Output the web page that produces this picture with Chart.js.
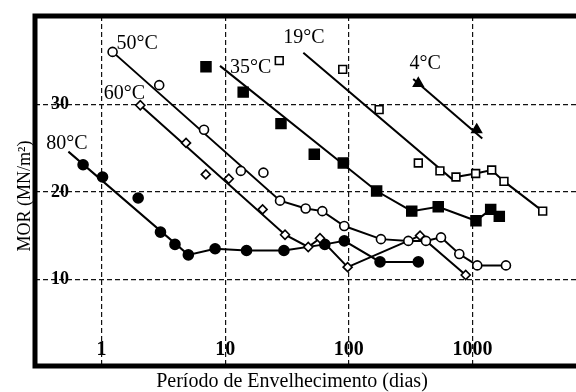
<!doctype html>
<html>

<head>
    <title>MOR x Período de Envelhecimento</title>
    <script src="https://cdn.jsdelivr.net/npm/chart.js"></script>
    <style>
        html, body { margin: 0; padding: 0; background: #fff; }
    </style>
</head>

<body>
    <canvas id="grafico" width="576" height="392"></canvas>

    <script>
        var dias50 = [1.23, 2.93, 6.75, 13.4, 20.4, 27.8, 44.8, 61.1, 91.9, 182, 303, 421, 557, 783, 1094, 1867];
        var mor50 = [36.0, 32.2, 27.1, 22.4, 22.2, 19.0, 18.1, 17.8, 16.1, 14.6, 14.4, 14.4, 14.8, 12.9, 11.6, 11.6];
        var linhaDias50 = [1.23, 27.8, 44.8, 61.1, 91.9, 182, 303, 421, 557, 783, 1094, 1867];
        var linhaMor50 = [36.0, 19.0, 18.1, 17.8, 16.1, 14.6, 14.4, 14.4, 14.8, 12.9, 11.6, 11.6];

        var dias60 = [2.06, 4.83, 6.98, 10.7, 20.1, 30.5, 47.0, 58.5, 97.9, 377, 882];
        var mor60 = [29.9, 25.6, 22.0, 21.5, 18.0, 15.1, 13.7, 14.7, 11.4, 15.0, 10.5];
        var linhaDias60 = [2.06, 30.5, 47.0, 58.5, 97.9, 377, 882];
        var linhaMor60 = [29.9, 15.1, 13.7, 14.7, 11.4, 15.0, 10.5];

        var dias80 = [0.71, 1.02, 1.98, 3.0, 3.93, 5.04, 8.3, 14.9, 29.9, 64, 92, 179, 365];
        var mor80 = [23.1, 21.7, 19.3, 15.4, 14.0, 12.8, 13.5, 13.3, 13.3, 14.0, 14.4, 12.0, 12.0];
        var linhaDias80 = [0.54, 5.04, 8.3, 14.9, 29.9, 64, 92, 179, 365];
        var linhaMor80 = [24.6, 12.8, 13.5, 13.3, 13.3, 14.0, 14.4, 12.0, 12.0];

        var dias35 = [7.0, 14.0, 28.3, 52.6, 90.3, 168, 323, 529, 1068, 1405, 1649];
        var mor35 = [34.3, 31.4, 27.8, 24.3, 23.3, 20.1, 17.8, 18.3, 16.7, 18.0, 17.2];
        var linhaDias35 = [9.09, 168, 323, 529, 1068, 1405, 1649];
        var linhaMor35 = [34.4, 20.1, 17.8, 18.3, 16.7, 18.0, 17.2];

        var dias19 = [27.4, 89.3, 176, 365, 546, 736, 1062, 1431, 1799, 3700];
        var mor19 = [35.0, 34.0, 29.4, 23.3, 22.4, 21.7, 22.1, 22.5, 21.2, 17.8];
        var linhaDias19 = [42.9, 680, 736, 1062, 1431, 1799, 3700];
        var linhaMor19 = [35.9, 21.5, 21.7, 22.1, 22.5, 21.2, 17.8];

        var dias4 = [365, 1082];
        var mor4 = [32.4, 27.1];
        var linhaDias4 = [332, 1201];
        var linhaMor4 = [32.9, 26.1];

        // rótulos das temperaturas, posicionados em coordenadas do gráfico
        var temperaturas = ['50°C', '60°C', '80°C', '35°C', '19°C', '4°C'];
        var rotuloDias = [1.94, 1.53, 0.526, 16.1, 43.4, 415];
        var rotuloMor = [36.9, 31.2, 25.5, 34.2, 37.6, 34.6];

        var ticksX = [1, 10, 100, 1000];
        var ticksY = [10, 20, 30];

        var fonte = "'Liberation Serif', 'Times New Roman', serif";

        function pontos(xs, ys) {
            return xs.map(function (x, i) { return { x: x, y: ys[i] }; });
        }

        function marcadores(xs, ys, estilo, cheio, raio) {
            return {
                data: pontos(xs, ys),
                showLine: false,
                order: 0,
                pointStyle: estilo,
                pointRadius: raio,
                pointHoverRadius: raio,
                pointBackgroundColor: cheio ? '#000' : '#fff',
                pointBorderColor: '#000',
                pointBorderWidth: 1.6
            };
        }

        function linha(xs, ys) {
            return {
                data: pontos(xs, ys),
                showLine: true,
                order: 1,
                borderColor: '#000',
                borderWidth: 2,
                pointRadius: 0,
                pointHoverRadius: 0,
                tension: 0
            };
        }

        // moldura grossa: esquerda, topo e base
        var moldura = {
            id: 'moldura',
            afterDraw: function (chart) {
                var a = chart.chartArea, c = chart.ctx;
                c.save();
                c.strokeStyle = '#000';
                c.lineWidth = 5;
                c.beginPath();
                c.moveTo(chart.width, a.top);
                c.lineTo(a.left, a.top);
                c.lineTo(a.left, a.bottom);
                c.lineTo(chart.width, a.bottom);
                c.stroke();
                c.restore();
            }
        };

        var rotulos = {
            id: 'rotulos',
            afterDatasetsDraw: function (chart) {
                var c = chart.ctx, sx = chart.scales.x, sy = chart.scales.y;
                c.save();
                c.fillStyle = '#000';
                c.font = '20px ' + fonte;
                c.textAlign = 'center';
                c.textBaseline = 'middle';
                temperaturas.forEach(function (t, i) {
                    c.fillText(t, sx.getPixelForValue(rotuloDias[i]), sy.getPixelForValue(rotuloMor[i]));
                });

                // títulos dos eixos
                c.fillText('Período de Envelhecimento (dias)', 292, 382);
                c.font = '18px ' + fonte;
                c.translate(25, 196);
                c.rotate(-Math.PI / 2);
                c.fillText('MOR (MN/m²)', 0, 0);
                c.restore();
            }
        };

        var grafico = new Chart(document.getElementById('grafico').getContext('2d'), {
            type: 'scatter',
            data: {
                datasets: [
                    marcadores(dias50, mor50, 'circle', false, 4.5),
                    marcadores(dias60, mor60, 'rectRot', false, 4.5),
                    marcadores(dias80, mor80, 'circle', true, 5),
                    marcadores(dias35, mor35, 'rect', true, 7),
                    marcadores(dias19, mor19, 'rect', false, 5.5),
                    marcadores(dias4, mor4, 'triangle', true, 5.5),
                    linha(linhaDias50, linhaMor50),
                    linha(linhaDias60, linhaMor60),
                    linha(linhaDias80, linhaMor80),
                    linha(linhaDias35, linhaMor35),
                    linha(linhaDias19, linhaMor19),
                    linha(linhaDias4, linhaMor4)
                ]
            },
            options: {
                responsive: false,
                animation: false,
                layout: { autoPadding: false, padding: { top: 16, left: 0, right: 0, bottom: 0 } },
                plugins: {
                    legend: { display: false },
                    tooltip: { enabled: false }
                },
                scales: {
                    x: {
                        type: 'logarithmic',
                        position: 'bottom',
                        min: 0.29,
                        max: 6880,
                        afterBuildTicks: function (s) {
                            s.ticks = ticksX.map(function (v) { return { value: v }; });
                        },
                        afterFit: function (s) {
                            s.height = 26;
                            s.paddingLeft = 0;
                            s.paddingRight = 0;
                        },
                        grid: { color: '#111', lineWidth: 1.2, drawTicks: false },
                        border: { display: false, dash: [5, 3] },
                        ticks: {
                            mirror: true,
                            padding: 6.5,
                            maxRotation: 0,
                            autoSkip: false,
                            color: '#000',
                            font: { family: fonte, size: 20, weight: 'bold', lineHeight: 1 },
                            callback: function (value) { return String(value); }
                        }
                    },
                    y: {
                        type: 'linear',
                        min: 0.1,
                        max: 40.1,
                        afterBuildTicks: function (s) {
                            s.ticks = ticksY.map(function (v) { return { value: v }; });
                        },
                        afterFit: function (s) {
                            s.width = 35;
                            s.paddingTop = 0;
                            s.paddingBottom = 0;
                        },
                        grid: { color: '#111', lineWidth: 1.2, drawTicks: false },
                        border: { display: false, dash: [5, 3] },
                        ticks: {
                            mirror: true,
                            padding: 16,
                            color: '#000',
                            font: { family: fonte, size: 18, weight: 'bold', lineHeight: 1 },
                            callback: function (value) { return String(value); }
                        }
                    }
                }
            },
            plugins: [moldura, rotulos]
        });
    </script>
</body>

</html>
